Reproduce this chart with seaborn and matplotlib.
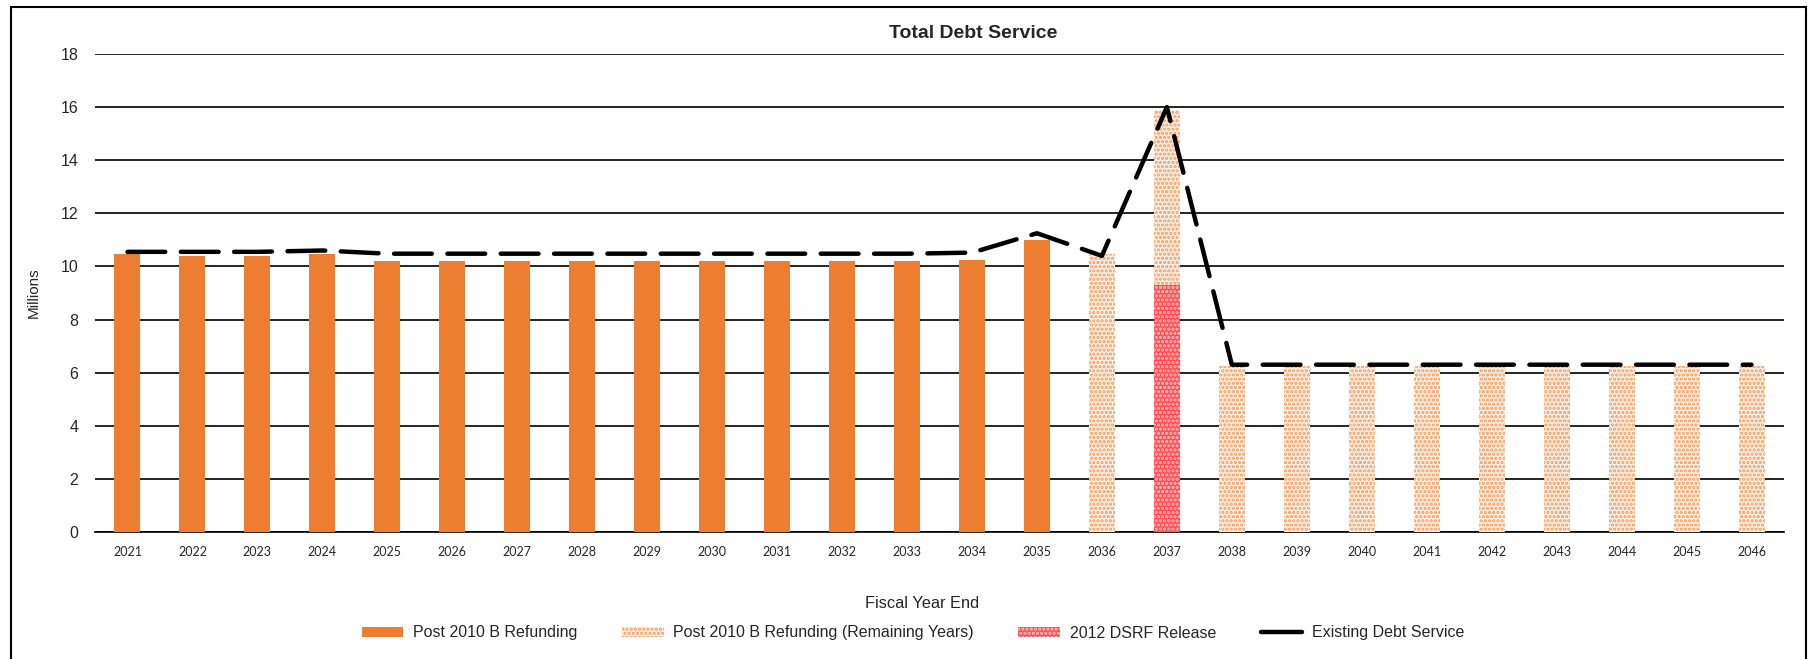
import numpy as np
import pandas as pd
import matplotlib
matplotlib.use("Agg")
import matplotlib.pyplot as plt
import seaborn as sns
from matplotlib.patches import Patch, Rectangle
from matplotlib.lines import Line2D

years = [str(y) for y in range(2021, 2047)]

# Post 2010 B Refunding (2021-2035), millions
refunding_years = years[:15]
refunding = [10.45, 10.4, 10.4, 10.45, 10.22, 10.22, 10.22, 10.22, 10.22,
             10.22, 10.22, 10.22, 10.22, 10.25, 11.0]

# Post 2010 B Refunding (Remaining Years) (2036-2046), total bar height
remaining_years = years[15:]
remaining = [10.45, 15.9, 6.25, 6.25, 6.25, 6.25, 6.25, 6.25, 6.25, 6.25, 6.25]

# 2012 DSRF Release (2037)
dsrf_years = ["2037"]
dsrf = [9.3]

# Existing Debt Service
existing = [10.55, 10.55, 10.55, 10.6, 10.48, 10.48, 10.48, 10.48, 10.48,
            10.48, 10.48, 10.48, 10.48, 10.52, 11.25, 10.4, 16.0,
            6.3, 6.3, 6.3, 6.3, 6.3, 6.3, 6.3, 6.3, 6.3]

ORANGE = "#ed7d31"
DOT_ORANGE = "#f39a5c"
DOT_FACE = "#fff1e6"
RED = "#ff4a50"

sns.set_style("white")
plt.rcParams["font.family"] = ["Liberation Sans", "DejaVu Sans"]
plt.rcParams["hatch.linewidth"] = 1.6

fig = plt.figure(figsize=(18.15, 6.59), dpi=100)
ax = fig.add_axes([95 / 1815, 1 - 532 / 659, (1784 - 95) / 1815, (532 - 54) / 659])

df_ref = pd.DataFrame({"year": refunding_years, "value": refunding})
df_rem = pd.DataFrame({"year": remaining_years, "value": remaining})
df_dsrf = pd.DataFrame({"year": dsrf_years, "value": dsrf})

sns.barplot(data=df_ref, x="year", y="value", order=years, color=ORANGE,
            saturation=1, width=0.4, ax=ax, zorder=3, linewidth=0)
n_before = len(ax.patches)
sns.barplot(data=df_rem, x="year", y="value", order=years, color=DOT_FACE,
            saturation=1, width=0.4, ax=ax, zorder=3, linewidth=0)
for p in ax.patches[n_before:]:
    p.set_hatch("....")
    p.set_edgecolor(DOT_ORANGE)
n_before = len(ax.patches)
sns.barplot(data=df_dsrf, x="year", y="value", order=years, color=RED,
            saturation=1, width=0.4, ax=ax, zorder=4, linewidth=0)
for p in ax.patches[n_before:]:
    p.set_hatch("....")
    p.set_edgecolor("#ffc4c4")

sns.lineplot(x=np.arange(len(years)), y=existing, ax=ax, color="black",
             linewidth=3.2, zorder=5, dashes=False)
ax.lines[-1].set_dashes((8.5, 3.5))
ax.lines[-1].set_dash_capstyle("round")

ax.set_ylim(0, 18)
ax.set_yticks(range(0, 19, 2))
ax.set_xlim(-0.5, len(years) - 0.5)
ax.yaxis.grid(True, color="black", linewidth=1.2, zorder=0)
ax.set_axisbelow(True)
for s in ["top", "right", "left"]:
    ax.spines[s].set_visible(False)
ax.spines["bottom"].set_color("black")
ax.spines["bottom"].set_linewidth(1.2)
ax.tick_params(axis="y", length=0, labelsize=11.5, pad=12)
ax.tick_params(axis="x", length=0, labelsize=9, pad=10)
for lbl in ax.get_xticklabels():
    lbl.set_fontfamily(["Lato", "DejaVu Sans"])
ax.set_xlabel("")
ax.set_ylabel("Millions", fontsize=11, labelpad=14)

fig.text(0.536, 1 - 33 / 659, "Total Debt Service", ha="center", va="center",
         fontsize=14, fontweight="bold")
fig.text(0.508, 1 - 604 / 659, "Fiscal Year End", ha="center", va="center",
         fontsize=11.8)

handles = [
    Patch(facecolor=ORANGE, edgecolor=ORANGE, linewidth=0, label="Post 2010 B Refunding"),
    Patch(facecolor=DOT_FACE, edgecolor=DOT_ORANGE, hatch="....", linewidth=0,
          label="Post 2010 B Refunding (Remaining Years)"),
    Patch(facecolor=RED, edgecolor="#ffc4c4", hatch="....", linewidth=0, label="2012 DSRF Release"),
    Line2D([0], [0], color="black", linewidth=3.2, label="Existing Debt Service"),
]
fig.legend(handles=handles, loc="center", bbox_to_anchor=(0.503, 1 - 633 / 659),
           ncol=4, frameon=False, fontsize=11.5, columnspacing=2.8,
           handlelength=2.6, handleheight=0.6, handletextpad=0.6)

fig.patches.append(Rectangle((11 / 1815, -0.05), (1806 - 11) / 1815, 1.05 - 7 / 659,
                             transform=fig.transFigure, fill=False,
                             edgecolor="black", linewidth=1.5))

fig.savefig("out.png", dpi=100)
